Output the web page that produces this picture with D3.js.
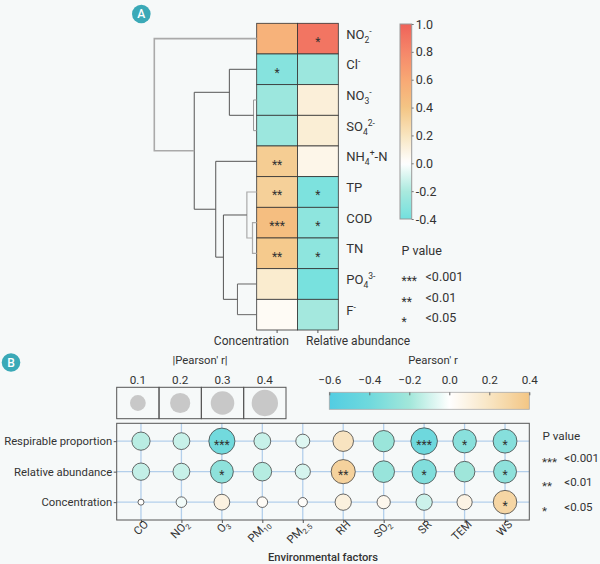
<!DOCTYPE html>
<html>
<head>
<meta charset="utf-8">
<script src="https://cdn.jsdelivr.net/npm/d3@7"></script>
<style>
  body { margin: 0; background: #f6f9f9; }
  svg { display: block; font-family: Roboto, "Noto Sans", sans-serif; }
</style>
</head>
<body>
<svg id="chart" width="600" height="564"></svg>
<script>
// ---------- panel A data ----------
const ions = ["NO2-", "Cl-", "NO3-", "SO42-", "NH4+-N", "TP", "COD", "TN", "PO43-", "F-"];
// label pieces: [text, "sub" | "sup" | ""]
const ionLabels = [
  [["NO", ""], ["2", "sub"], ["-", "sup"]],
  [["Cl", ""], ["-", "sup"]],
  [["NO", ""], ["3", "sub"], ["-", "sup"]],
  [["SO", ""], ["4", "sub"], ["2-", "sup"]],
  [["NH", ""], ["4", "sub"], ["+", "sup"], ["-N", ""]],
  [["TP", ""]],
  [["COD", ""]],
  [["TN", ""]],
  [["PO", ""], ["4", "sub"], ["3-", "sup"]],
  [["F", ""], ["-", "sup"]]
];
const heatCols = ["Concentration", "Relative abundance"];
const concR = [0.53, -0.33, -0.25, -0.25, 0.35, 0.33, 0.45, 0.37, 0.15, 0.03];
const relR = [0.9, -0.25, 0.12, 0.13, 0.07, -0.36, -0.3, -0.3, -0.38, -0.22];
const concStars = ["", "*", "", "", "**", "**", "***", "**", "", ""];
const relStars = ["*", "", "", "", "", "*", "*", "*", "", ""];
// hclust-style merges: negative = leaf (1-based), positive = earlier merge
const merges = [
  [-3, -4, 0.031],
  [-7, -8, 0.041],
  [-6, 2, 0.096],
  [-9, -10, 0.188],
  [-2, 1, 0.267],
  [3, 4, 0.325],
  [-5, 6, 0.40],
  [5, 7, 0.61],
  [-1, 8, 1.0]
];
const heatTicks = [1.0, 0.8, 0.6, 0.4, 0.2, 0.0, -0.2, -0.4];

// ---------- panel B data ----------
const factors = ["CO", "NO2", "O3", "PM10", "PM2.5", "RH", "SO2", "SR", "TEM", "WS"];
const factorLabels = [
  [["CO", ""]],
  [["NO", ""], ["2", "sub"]],
  [["O", ""], ["3", "sub"]],
  [["PM", ""], ["10", "sub"]],
  [["PM", ""], ["2.5", "sub"]],
  [["RH", ""]],
  [["SO", ""], ["2", "sub"]],
  [["SR", ""]],
  [["TEM", ""]],
  [["WS", ""]]
];
const responses = ["Respirable proportion", "Relative abundance", "Concentration"];
const respR = [-0.15, -0.12, -0.39, -0.12, -0.07, 0.21, -0.23, -0.41, -0.30, -0.31];
const relAbR = [-0.13, -0.12, -0.28, -0.16, -0.09, 0.32, -0.24, -0.33, -0.21, -0.28];
const concAirR = [0.01, -0.03, 0.10, 0.03, 0.02, 0.11, 0.06, -0.11, 0.09, 0.30];
const respStars = ["", "", "***", "", "", "", "", "***", "*", "*"];
const relAbStars = ["", "", "*", "", "", "**", "", "*", "", "*"];
const concAirStars = ["", "", "", "", "", "", "", "", "", "*"];
const sizeTicks = [0.1, 0.2, 0.3, 0.4];
const pearsonTicks = [-0.6, -0.4, -0.2, 0.0, 0.2, 0.4];
const pLevels = [["***", "<0.001"], ["**", "<0.01"], ["*", "<0.05"]];

// ---------- helpers ----------
const svg = d3.select('#chart');
const ink = '#333';
const fsB = 11.3; // font size used in panel B

function richText(sel, pieces, subShift) {
  sel.text(null);
  let shift = 0;
  pieces.forEach(([t, kind]) => {
    const target = kind === 'sub' ? (subShift || 4) : kind === 'sup' ? -5 : 0;
    sel.append('tspan')
      .attr('dy', target - shift)
      .attr('font-size', kind ? '0.66em' : null)
      .text(t);
    shift = target;
  });
}

function badge(x, y, letter) {
  svg.append('circle').attr('cx', x).attr('cy', y).attr('r', 9.3).attr('fill', '#3aa9b7');
  svg.append('text').attr('x', x).attr('y', y).attr('dy', '0.36em')
    .attr('text-anchor', 'middle').attr('fill', 'white')
    .attr('font-size', 12).attr('font-weight', 500).text(letter);
}

function gradient(id, scale, domain, vertical) {
  const g = svg.append('defs').append('linearGradient').attr('id', id);
  if (vertical) g.attr('x1', 0).attr('y1', 1).attr('x2', 0).attr('y2', 0);
  d3.range(0, 1.0001, 0.02).forEach(t => {
    g.append('stop').attr('offset', t)
      .attr('stop-color', scale(domain[0] + t * (domain[1] - domain[0])));
  });
}

// ---------- panel A ----------
badge(141.3, 14, 'A');

const heatColor = d3.scaleLinear()
  .domain([-0.4, -0.2, 0, 0.2, 0.4, 0.6, 0.8, 1.0])
  .range(['#72e0de', '#aae9de', '#ffffff', '#f8e5bf', '#f4c584', '#f8a874', '#f5876a', '#ef6259']);

const yHeat = d3.scaleBand().domain(ions).range([23.3, 330]);
const xHeat = d3.scaleBand().domain(heatCols).range([256.7, 338.3]);

const cells = ions.flatMap((ion, i) => [
  { ion, col: heatCols[0], r: concR[i], s: concStars[i] },
  { ion, col: heatCols[1], r: relR[i], s: relStars[i] }
]);

const heatG = svg.append('g');
heatG.selectAll('rect')
  .data(cells)
  .enter().append('rect')
  .attr('x', d => xHeat(d.col))
  .attr('y', d => yHeat(d.ion))
  .attr('width', xHeat.bandwidth())
  .attr('height', yHeat.bandwidth())
  .attr('fill', d => heatColor(d.r))
  .attr('stroke', '#333')
  .attr('stroke-width', 0.8);

heatG.selectAll('text.star')
  .data(cells.filter(d => d.s))
  .enter().append('text')
  .attr('class', 'star')
  .attr('x', d => xHeat(d.col) + xHeat.bandwidth() / 2)
  .attr('y', d => yHeat(d.ion) + yHeat.bandwidth() / 2)
  .attr('dy', '0.62em')
  .attr('text-anchor', 'middle')
  .attr('font-size', 12)
  .attr('fill', ink)
  .text(d => d.s);

// ion labels
const ionAxis = svg.append('g')
  .attr('transform', `translate(${xHeat.range()[1]},0)`)
  .call(d3.axisRight(yHeat).tickSize(0).tickPadding(8));
ionAxis.attr('font-family', null).attr('font-size', 13);
ionAxis.select('.domain').remove();
ionAxis.selectAll('text').attr('fill', ink)
  .each(function (d) { richText(d3.select(this), ionLabels[ions.indexOf(d)]); });

// column ticks + labels
const colAxis = svg.append('g')
  .attr('transform', `translate(0,${yHeat.range()[1]})`)
  .call(d3.axisBottom(xHeat).tickSize(3).tickFormat(''));
colAxis.select('.domain').remove();
colAxis.selectAll('line').attr('stroke', '#555');
const midHeat = (xHeat.range()[0] + xHeat.range()[1]) / 2;
svg.append('text').attr('x', midHeat - 8.5).attr('y', 344.5)
  .attr('text-anchor', 'end').attr('font-size', 12).attr('fill', ink).text(heatCols[0]);
svg.append('text').attr('x', midHeat + 8.5).attr('y', 344.5)
  .attr('text-anchor', 'start').attr('font-size', 12).attr('fill', ink).text(heatCols[1]);

// dendrogram
const xDen = d3.scaleLinear().domain([0, 1.0]).range([256.7, 154.3]);
const denStroke = ['#999', '#aaa', '#aaa', '#666', '#555', '#555', '#555', '#555', '#aaa'];
const denWidth = [1, 1.2, 1.2, 1, 1, 1, 1, 1, 1.6];
const nodes = [];
const pos = k => k < 0
  ? { x: xDen(0), y: yHeat(ions[-k - 1]) + yHeat.bandwidth() / 2 }
  : nodes[k - 1];
merges.forEach(([a, b, h], i) => {
  const pa = pos(a), pb = pos(b);
  const node = { x: xDen(h), y: (pa.y + pb.y) / 2 };
  nodes.push(node);
  svg.append('path')
    .attr('d', `M${pa.x},${pa.y}H${node.x}V${pb.y}H${pb.x}`)
    .attr('fill', 'none')
    .attr('stroke', denStroke[i])
    .attr('stroke-width', denWidth[i]);
});

// vertical color bar
const cbY = d3.scaleLinear().domain([-0.4, 1.0]).range([219, 24]);
gradient('gradA', heatColor, [-0.4, 1.0], true);
svg.append('rect').attr('x', 400).attr('y', 24).attr('width', 11.7).attr('height', 195)
  .attr('fill', 'url(#gradA)').attr('stroke', '#999').attr('stroke-width', 1);
const cbAxis = svg.append('g').attr('transform', 'translate(411.7,0)')
  .call(d3.axisRight(cbY).tickValues(heatTicks).tickSize(2).tickPadding(2)
    .tickFormat(d => d3.format('.1f')(d).replace('−', '-')));
cbAxis.attr('font-family', null).attr('font-size', 12.5);
cbAxis.select('.domain').remove();
cbAxis.selectAll('line').attr('stroke', '#777');
cbAxis.selectAll('text').attr('fill', ink);

// P value legend (top)
svg.append('text').attr('x', 401.5).attr('y', 254.5).attr('font-size', 12.5)
  .attr('fill', ink).text('P value');
pLevels.forEach(([s, lab], i) => {
  const y = 281 + i * 20.7;
  svg.append('text').attr('x', 401.5).attr('y', y + 4).attr('font-size', 12)
    .attr('fill', ink).text(s);
  svg.append('text').attr('x', 425.5).attr('y', y).attr('font-size', 12.5)
    .attr('fill', ink).text(lab);
});

// ---------- panel B ----------
badge(11, 362.5, 'B');

const bubbleColor = d3.scaleLinear()
  .domain([-0.6, -0.4, -0.2, 0, 0.2, 0.4])
  .range(['#52cde2', '#6fd9dd', '#a2e7da', '#ffffff', '#f8e5c3', '#f3c684']);
const rNorm = d3.scaleSqrt().domain([0, 0.4]).range([0, 10.3]).clamp(true);
const radius = v => 3 + rNorm(Math.max(0, Math.abs(v) - 0.01));

const xB = d3.scalePoint().domain(factors).range([116.7, 529.3]).padding(0.6);
const yB = d3.scalePoint().domain(responses).range([423.3, 520]).padding(0.585);

// grid
const gridG = svg.append('g').attr('stroke', '#b3cfeb').attr('stroke-width', 1.3);
gridG.selectAll('line.v').data(factors).enter().append('line')
  .attr('x1', d => xB(d)).attr('x2', d => xB(d))
  .attr('y1', yB.range()[0]).attr('y2', yB.range()[1]);
gridG.selectAll('line.h').data(responses).enter().append('line')
  .attr('x1', xB.range()[0]).attr('x2', xB.range()[1])
  .attr('y1', d => yB(d)).attr('y2', d => yB(d));

const bubbles = [];
[[respR, respStars], [relAbR, relAbStars], [concAirR, concAirStars]].forEach(([vals, stars], j) => {
  factors.forEach((f, i) => bubbles.push({ f, resp: responses[j], r: vals[i], s: stars[i] }));
});

svg.append('g').selectAll('circle')
  .data(bubbles)
  .enter().append('circle')
  .attr('cx', d => xB(d.f))
  .attr('cy', d => yB(d.resp))
  .attr('r', d => radius(d.r))
  .attr('fill', d => bubbleColor(d.r))
  .attr('stroke', '#444')
  .attr('stroke-width', 0.8);

svg.append('g').selectAll('text')
  .data(bubbles.filter(d => d.s))
  .enter().append('text')
  .attr('x', d => xB(d.f))
  .attr('y', d => yB(d.resp))
  .attr('dy', '0.62em')
  .attr('text-anchor', 'middle')
  .attr('font-size', 12)
  .attr('fill', ink)
  .text(d => d.s);

svg.append('rect')
  .attr('x', xB.range()[0]).attr('y', yB.range()[0])
  .attr('width', xB.range()[1] - xB.range()[0])
  .attr('height', yB.range()[1] - yB.range()[0])
  .attr('fill', 'none').attr('stroke', '#555').attr('stroke-width', 1);

// axes
const yAxisB = svg.append('g').attr('transform', `translate(${xB.range()[0]},0)`)
  .call(d3.axisLeft(yB).tickSize(3).tickPadding(1.5));
yAxisB.attr('font-family', null).attr('font-size', fsB);
yAxisB.select('.domain').remove();
yAxisB.selectAll('line').attr('stroke', '#555');
yAxisB.selectAll('text').attr('fill', ink);

const xAxisB = svg.append('g').attr('transform', `translate(0,${yB.range()[1]})`)
  .call(d3.axisBottom(xB).tickSize(3));
xAxisB.attr('font-family', null).attr('font-size', fsB);
xAxisB.select('.domain').remove();
xAxisB.selectAll('line').attr('stroke', '#555');
xAxisB.selectAll('text')
  .attr('fill', ink)
  .attr('y', 0).attr('dy', null)
  .attr('text-anchor', 'end')
  .attr('transform', 'translate(7.5,5) rotate(-45)')
  .each(function (d) { richText(d3.select(this), factorLabels[factors.indexOf(d)], 3); });

svg.append('text').attr('x', 323).attr('y', 560.5).attr('text-anchor', 'middle')
  .attr('font-size', 11.2).attr('font-weight', 500).attr('fill', ink).text('Environmental factors');

// size legend
const xSize = d3.scaleBand().domain(sizeTicks).range([116.7, 286]);
svg.append('text').attr('x', 200).attr('y', 364).attr('text-anchor', 'middle')
  .attr('font-size', fsB).attr('fill', ink).text("|Pearson' r|");
const sizeG = svg.append('g').selectAll('g')
  .data(sizeTicks).enter().append('g')
  .attr('transform', d => `translate(${xSize(d)},387.3)`);
sizeG.append('rect').attr('width', xSize.bandwidth()).attr('height', 31.4)
  .attr('fill', 'none').attr('stroke', '#555').attr('stroke-width', 1);
sizeG.append('circle').attr('cx', xSize.bandwidth() / 2).attr('cy', 15.7)
  .attr('r', d => radius(d)).attr('fill', '#c8c8c8');
sizeG.append('text').attr('x', xSize.bandwidth() / 2).attr('y', -3.5)
  .attr('text-anchor', 'middle').attr('font-size', fsB + 0.4).attr('fill', ink)
  .text(d => d3.format('.1f')(d));

// horizontal color bar
const cbX = d3.scaleLinear().domain([-0.6, 0.4]).range([329.3, 529.3]);
gradient('gradB', bubbleColor, [-0.6, 0.4], false);
svg.append('text').attr('x', 433).attr('y', 364).attr('text-anchor', 'middle')
  .attr('font-size', fsB).attr('fill', ink).text("Pearson' r");
svg.append('rect').attr('x', 329.3).attr('y', 392.3).attr('width', 200).attr('height', 17)
  .attr('fill', 'url(#gradB)').attr('stroke', '#aaa').attr('stroke-width', 0.8);
const cbxAxis = svg.append('g').attr('transform', 'translate(0,392.3)')
  .call(d3.axisTop(cbX).tickValues(pearsonTicks).tickSize(-3).tickPadding(8)
    .tickFormat(d3.format('.1f')));
cbxAxis.attr('font-family', null).attr('font-size', fsB + 0.4);
cbxAxis.select('.domain').remove();
cbxAxis.selectAll('line').attr('stroke', '#666');
cbxAxis.selectAll('text').attr('fill', ink);

// P value legend (bottom)
svg.append('text').attr('x', 542.5).attr('y', 439.5).attr('font-size', 11.7)
  .attr('fill', ink).text('P value');
pLevels.forEach(([s, lab], i) => {
  const y = 461.5 + i * 24.5;
  svg.append('text').attr('x', 542).attr('y', y + 4).attr('font-size', 11.5)
    .attr('fill', ink).text(s);
  svg.append('text').attr('x', 564.3).attr('y', y).attr('font-size', 11.5)
    .attr('fill', ink).text(lab);
});
</script>
</body>
</html>
